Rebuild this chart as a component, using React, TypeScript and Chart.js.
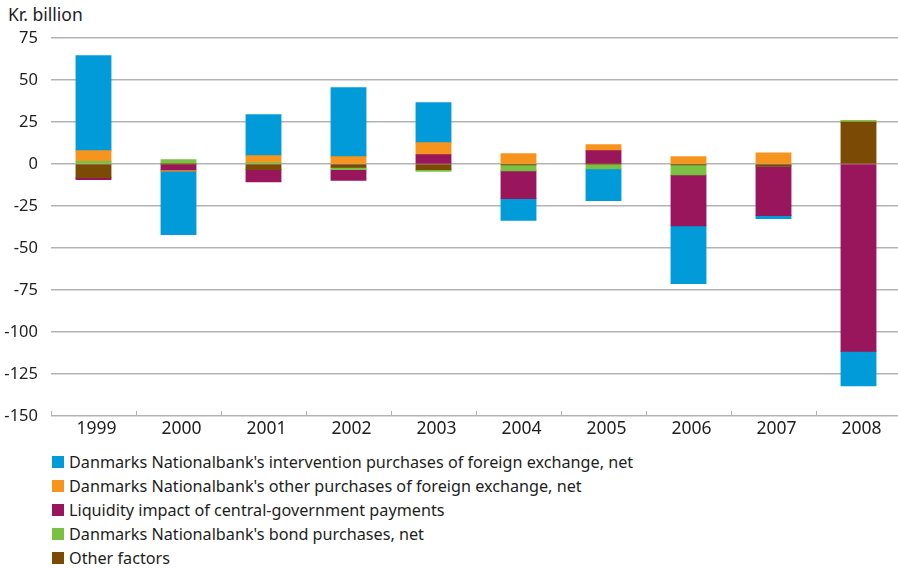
import React, { useEffect, useRef } from "react";
import { Chart, registerables } from "chart.js";

Chart.register(...registerables);

const years = ["1999", "2000", "2001", "2002", "2003", "2004", "2005", "2006", "2007", "2008"];
const yTicks = [75, 50, 25, 0, -25, -50, -75, -100, -125, -150];

const intervention = [56.6, -37.8, 24.4, 41.1, 23.8, -12.9, -19.0, -34.5, -1.8, -20.5];
const otherFx = [6.4, -0.7, 4.1, 4.3, 7.2, 6.1, 3.6, 4.3, 6.6, 0];
const liquidity = [-1.2, -3.4, -7.3, -6.5, 5.5, -16.6, 7.9, -30.3, -29.4, -111.5];
const bonds = [1.5, 2.6, 0.8, -1.2, -1.1, -3.5, -2.8, -5.9, 0, 1.0];
const otherFactors = [-8.0, 0, -3.2, -2.0, -3.2, -0.5, 0, -0.5, -1.2, 24.8];

const seriesNames = [
  "Danmarks Nationalbank's intervention purchases of foreign exchange, net",
  "Danmarks Nationalbank's other purchases of foreign exchange, net",
  "Liquidity impact of central-government payments",
  "Danmarks Nationalbank's bond purchases, net",
  "Other factors",
];
const seriesColors = ["#009BD8", "#F7941D", "#99165C", "#7AC143", "#7B4A05"];
const seriesData = [intervention, otherFx, liquidity, bonds, otherFactors];

const FONT = "'Noto Sans', sans-serif";
const GRID = "#b3b3b3";
const TEXT = "#1e1e1e";

const tickMarks = {
  id: "tickMarks",
  afterDraw(chart: any) {
    const { ctx, chartArea } = chart;
    const xs = chart.scales.x;
    const n = chart.data.labels.length;
    const step = (xs.getPixelForValue(n - 1) - xs.getPixelForValue(0)) / (n - 1);
    ctx.save();
    ctx.strokeStyle = GRID;
    ctx.lineWidth = 1;
    for (let i = 0; i <= n; i++) {
      const x = Math.round(xs.getPixelForValue(0) - step / 2 + i * step) + 0.5;
      ctx.beginPath();
      ctx.moveTo(x, chartArea.bottom);
      ctx.lineTo(x, chartArea.bottom - 5);
      ctx.stroke();
    }
    ctx.restore();
  },
};

export default function App() {
  const ref = useRef<HTMLCanvasElement | null>(null);

  useEffect(() => {
    if (!ref.current) return;
    // stacking order from zero outward: reverse of legend order
    const order = [4, 3, 2, 1, 0];
    const chart = new Chart(ref.current, {
      type: "bar",
      data: {
        labels: years,
        datasets: order.map((i) => ({
          label: seriesNames[i],
          data: seriesData[i],
          backgroundColor: seriesColors[i],
          borderWidth: 0,
          borderSkipped: false,
          inflateAmount: 0.5,
          categoryPercentage: 1,
          barPercentage: 0.41,
        })),
      },
      options: {
        animation: false,
        responsive: false,
        devicePixelRatio: 1,
        layout: { padding: { top: 36, right: 2, left: 0, bottom: 0 } },
        plugins: {
          legend: { display: false },
          tooltip: { enabled: false },
          title: { display: false },
        },
        scales: {
          x: {
            stacked: true,
            grid: { display: false, drawTicks: false },
            border: { display: false },
            ticks: {
              color: TEXT,
              font: { family: FONT, size: 17.5 },
              padding: 3,
              labelOffset: 3,
              maxRotation: 0,
            },
            afterFit: (s: any) => {
              s.height = 26;
            },
          },
          y: {
            stacked: true,
            min: -150,
            max: 75,
            afterBuildTicks: (s: any) => {
              s.ticks = yTicks.map((v) => ({ value: v }));
            },
            grid: { color: GRID, lineWidth: 1.5, drawTicks: false },
            border: { display: false },
            ticks: {
              color: TEXT,
              font: { family: FONT, size: 16.5 },
              padding: 13,
            },
            afterFit: (s: any) => {
              s.width = 51;
            },
          },
        },
      },
      plugins: [tickMarks],
    });
    return () => chart.destroy();
  }, []);

  return (
    <div
      style={{
        position: "absolute",
        left: 0,
        top: 0,
        width: 898,
        height: 568,
        overflow: "hidden",
        background: "#fff",
        fontFamily: FONT,
        color: TEXT,
      }}
    >
      <div style={{ position: "absolute", left: 8, top: 2, fontSize: 17.5, lineHeight: "24px" }}>Kr. billion</div>
      <canvas ref={ref} width={903} height={440} style={{ position: "absolute", left: 0, top: 2 }} />
      <div style={{ position: "absolute", left: 52, top: 450 }}>
        {seriesNames.map((name, i) => (
          <div key={name} style={{ display: "flex", alignItems: "center", height: 24.1, fontSize: 16.2 }}>
            <span
              style={{
                display: "inline-block",
                width: 12,
                height: 12,
                background: seriesColors[i],
                marginRight: 5,
              }}
            />
            <span style={{ whiteSpace: "nowrap" }}>{name}</span>
          </div>
        ))}
      </div>
    </div>
  );
}
